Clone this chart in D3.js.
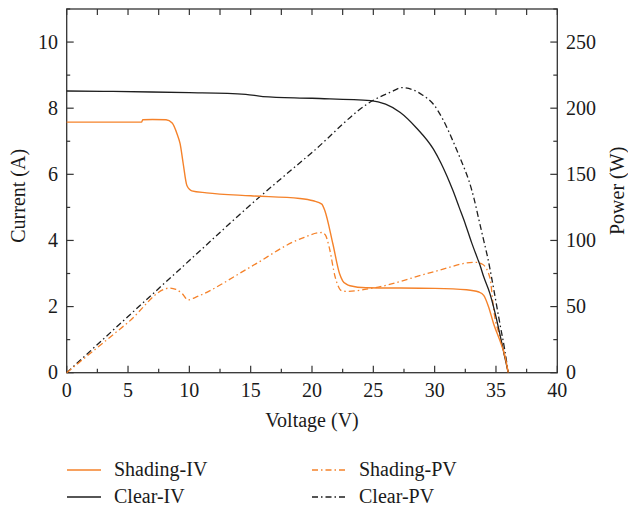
<!DOCTYPE html>
<html><head><meta charset="utf-8">
<script src="https://cdn.jsdelivr.net/npm/d3@7"></script>
<style>body{margin:0;background:#fff}svg{display:block}text{font-family:"Liberation Serif","DejaVu Serif",serif;fill:#1a1a1a}</style>
</head><body><svg id="c" width="628" height="508"></svg>
<script>
// ---- data ----
const clearIV_V = [0, 3, 6.9, 10, 14.6, 16.0, 20, 24.8, 26, 27.2, 28.5, 29.9, 30.5, 31.0, 31.5, 32.0, 32.5, 33.0, 33.5, 33.7, 34.0, 34.5, 34.9, 35.3, 35.7, 36.0];
const clearIV_I = [8.52, 8.51, 8.49, 8.47, 8.42, 8.35, 8.30, 8.23, 8.12, 7.87, 7.41, 6.76, 6.35, 5.95, 5.5, 5.0, 4.5, 3.95, 3.45, 3.25, 2.9, 2.4, 1.85, 1.2, 0.5, 0];
const clearPV_V = [0, 5, 10, 15, 20, 25, 26.5, 27.3, 28.2, 29.0, 29.9, 30.7, 31.5, 32.0, 32.4, 32.8, 33.2, 33.6, 34.0, 34.35, 34.8, 35.3, 35.7, 36.0];
const clearPV_P = [0, 42.5, 84.8, 127, 166.5, 206, 212.5, 215.5, 214, 210, 203, 191, 175, 164, 155, 145, 132, 116, 100, 86, 64, 38, 18, 0];
const shadeIV_V = [0, 6.1, 6.2, 7.0, 8.1, 8.6, 9.0, 9.25, 9.5, 9.8, 10.2, 11.4, 15, 19.0, 20.1, 20.8, 21.05, 21.7, 22.25, 22.5, 22.8, 23.1, 24.4, 30, 32.6, 33.6, 34.0, 34.4, 34.8, 35.4, 35.7, 36.0];
const shadeIV_I = [7.58, 7.58, 7.65, 7.66, 7.65, 7.55, 7.22, 6.92, 6.32, 5.66, 5.50, 5.44, 5.35, 5.27, 5.2, 5.1, 4.9, 3.9, 2.99, 2.78, 2.68, 2.63, 2.57, 2.55, 2.51, 2.44, 2.34, 1.99, 1.49, 0.89, 0.55, 0];
const shadePV_V = [0, 5, 8.4, 8.9, 9.4, 9.9, 10.5, 15, 19, 20.8, 21.1, 21.4, 21.9, 22.4, 22.8, 25, 30, 33.3, 33.9, 34.5, 34.85, 35.4, 36.0];
const shadePV_P = [0, 38, 64, 63, 60, 55, 57, 80, 101, 106, 104, 95, 72, 62, 61.5, 64, 76.5, 83.5, 82, 72, 45, 25, 0];
const xTicks = [0, 5, 10, 15, 20, 25, 30, 35, 40];
const yTicks = [0, 2, 4, 6, 8, 10];
const y2Ticks = [0, 50, 100, 150, 200, 250];
const legendLabels = ["Shading-IV", "Clear-IV", "Shading-PV", "Clear-PV"];

// ---- layout ----
const svg = d3.select("#c");
const L = 66.7, R = 557.3, T = 9, B = 372.7;
const x = d3.scaleLinear().domain([0, 40]).range([L, R]);
const y = d3.scaleLinear().domain([0, 11]).range([B, T]);
const y2 = d3.scaleLinear().domain([0, 275]).range([B, T]);
const ORANGE = "#f5822a", BLACK = "#1e1e1e", AXIS = "#333";
const DASH = "6,3,1.5,3";
const FS = "20px";

// ticks
const g = svg.append("g");
function tick(x1, y1, x2, y2_) { g.append("line").attr("x1", x1).attr("y1", y1).attr("x2", x2).attr("y2", y2_).attr("stroke", AXIS).attr("stroke-width", 1.2); }
d3.range(0, 40.01, 2.5).forEach(v => {
  const major = v % 5 === 0;
  tick(x(v), B, x(v), B - (major ? 7 : 4));
  tick(x(v), T, x(v), T + 6);
});
d3.range(0, 11.01, 1).forEach(v => { tick(L, y(v), L + (v % 2 === 0 ? 7 : 3.5), y(v)); });
d3.range(0, 275.01, 25).forEach(v => { tick(R, y2(v), R - (v % 50 === 0 ? 7 : 4), y2(v)); });

// frame
svg.append("rect").attr("x", L).attr("y", T).attr("width", R - L).attr("height", B - T)
  .attr("fill", "none").attr("stroke", AXIS).attr("stroke-width", 1.3);

// tick labels
svg.selectAll(".xl").data(xTicks).join("text").attr("x", d => x(d)).attr("y", 397)
  .attr("text-anchor", "middle").style("font-size", FS).text(d => d);
svg.selectAll(".yl").data(yTicks).join("text").attr("x", 58).attr("y", d => y(d) + 6.5)
  .attr("text-anchor", "end").style("font-size", FS).text(d => d);
svg.selectAll(".y2l").data(y2Ticks).join("text").attr("x", 566).attr("y", d => y2(d) + 6.5)
  .attr("text-anchor", "start").style("font-size", FS).text(d => d);

// axis titles
svg.append("text").attr("x", (L + R) / 2).attr("y", 427).attr("text-anchor", "middle").style("font-size", FS).text("Voltage (V)");
svg.append("text").attr("transform", `translate(25,${(T + B) / 2 + 5}) rotate(-90)`).attr("text-anchor", "middle").style("font-size", FS).text("Current (A)");
svg.append("text").attr("transform", `translate(624,${(T + B) / 2}) rotate(-90)`).attr("text-anchor", "middle").style("font-size", FS).text("Power (W)");

// lines
const lineIV = d3.line().x(d => x(d[0])).y(d => y(d[1])).curve(d3.curveMonotoneX);
const linePV = d3.line().x(d => x(d[0])).y(d => y2(d[1])).curve(d3.curveMonotoneX);
const zip = (a, b) => a.map((v, i) => [v, b[i]]);
const plot = svg.append("g");
plot.append("path").attr("d", linePV(zip(clearPV_V, clearPV_P))).attr("fill", "none").attr("stroke", BLACK).attr("stroke-width", 1.3).attr("stroke-dasharray", DASH);
plot.append("path").attr("d", linePV(zip(shadePV_V, shadePV_P))).attr("fill", "none").attr("stroke", ORANGE).attr("stroke-width", 1.3).attr("stroke-dasharray", DASH);
plot.append("path").attr("d", lineIV(zip(clearIV_V, clearIV_I))).attr("fill", "none").attr("stroke", BLACK).attr("stroke-width", 1.3);
plot.append("path").attr("d", lineIV(zip(shadeIV_V, shadeIV_I))).attr("fill", "none").attr("stroke", ORANGE).attr("stroke-width", 1.4);

// legend
const leg = [
  { lab: legendLabels[0], c: ORANGE, d: null, lx: 67, ty: 470 },
  { lab: legendLabels[1], c: BLACK, d: null, lx: 67, ty: 497 },
  { lab: legendLabels[2], c: ORANGE, d: DASH, lx: 312, ty: 470 },
  { lab: legendLabels[3], c: BLACK, d: DASH, lx: 312, ty: 497 }
];
leg.forEach(o => {
  svg.append("line").attr("x1", o.lx).attr("x2", o.lx + 34).attr("y1", o.ty).attr("y2", o.ty)
    .attr("stroke", o.c).attr("stroke-width", 1.4).attr("stroke-dasharray", o.d);
  svg.append("text").attr("x", o.lx + 47).attr("y", o.ty + 6).style("font-size", FS).text(o.lab);
});
</script></body></html>
